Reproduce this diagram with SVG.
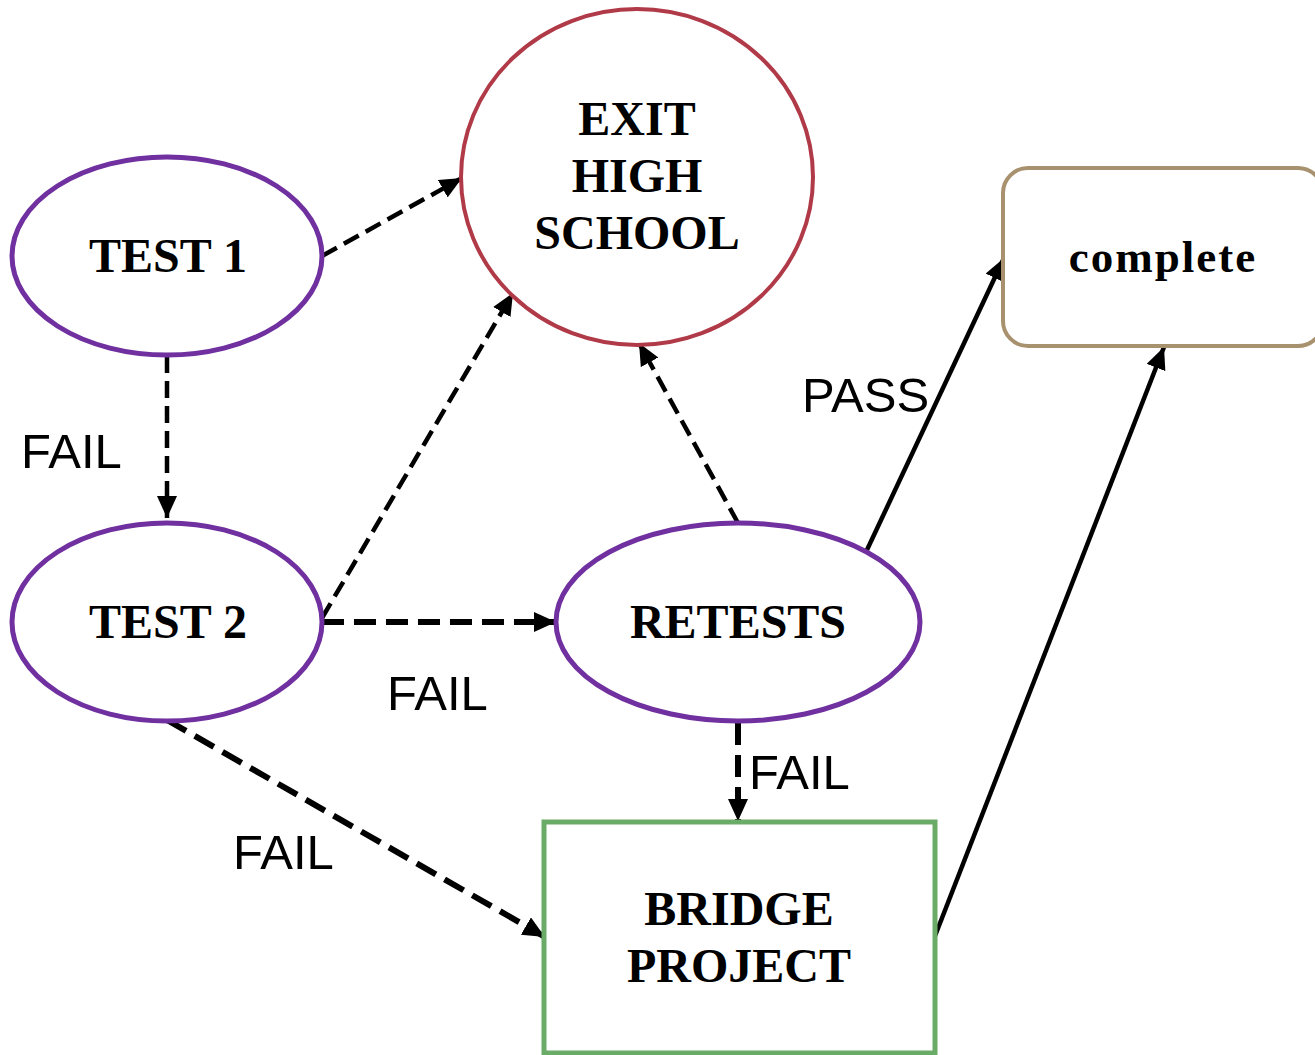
<svg xmlns="http://www.w3.org/2000/svg" width="1315" height="1055" viewBox="0 0 1315 1055">
<style>
.lbl{font-family:"Liberation Serif",serif;font-weight:bold;font-size:48px;fill:#000;text-anchor:middle}
.el{font-family:"Liberation Sans",Arial,sans-serif;font-size:49px;fill:#000}
.purple{fill:#fff;stroke:#7030a0;stroke-width:5}
.c{fill:none;stroke:#000}
.d1{stroke-width:4.5;stroke-dasharray:17 8}
.d2{stroke-width:6;stroke-dasharray:22 10}
.s{stroke-width:4.5}
</style>
<defs>
<marker id="ah" markerUnits="userSpaceOnUse" markerWidth="24" markerHeight="20" refX="22" refY="10" orient="auto">
<path d="M0,0 L22,10 L0,20 Z" fill="#000"/>
</marker>
</defs>
<rect width="1315" height="1055" fill="#fff"/>
<g id="connectors">
<line class="c d1" x1="322" y1="256" x2="462" y2="178" marker-end="url(#ah)"/>
<line class="c d1" x1="167" y1="356" x2="167" y2="518" marker-end="url(#ah)"/>
<line class="c d1" x1="322" y1="618" x2="513" y2="293" marker-end="url(#ah)"/>
<line class="c d2" x1="322" y1="622" x2="556" y2="622" marker-end="url(#ah)"/>
<line class="c d2" x1="167" y1="720" x2="545" y2="937" marker-end="url(#ah)"/>
<line class="c d1" x1="738" y1="523" x2="639" y2="343" marker-end="url(#ah)"/>
<line class="c d2" x1="738" y1="723" x2="738" y2="821" marker-end="url(#ah)"/>
<line class="c s" x1="866" y1="552" x2="1004" y2="258" marker-end="url(#ah)"/>
<line class="c s" x1="935" y1="936" x2="1164" y2="347" marker-end="url(#ah)"/>
</g>
<g id="exit">
<ellipse cx="637" cy="177" rx="176" ry="168" fill="#fff" stroke="#b03a48" stroke-width="4"/>
<text class="lbl" x="637" y="135">EXIT</text>
<text class="lbl" x="637" y="192">HIGH</text>
<text class="lbl" x="637" y="249">SCHOOL</text>
</g>
<g id="test1">
<ellipse class="purple" cx="167" cy="256" rx="155" ry="99"/>
<text class="lbl" x="168" y="272">TEST 1</text>
</g>
<g id="test2">
<ellipse class="purple" cx="167" cy="622" rx="155" ry="99"/>
<text class="lbl" x="168" y="638">TEST 2</text>
</g>
<g id="retests">
<ellipse class="purple" cx="738" cy="622" rx="182" ry="99"/>
<text class="lbl" x="738" y="638">RETESTS</text>
</g>
<g id="complete">
<rect x="1003" y="168" width="320" height="178" rx="25" fill="#fff" stroke="#a8916e" stroke-width="4"/>
<text class="lbl" x="1163" y="272" style="font-size:45px;letter-spacing:2px">complete</text>
</g>
<g id="bridge">
<rect x="544" y="822" width="391" height="231" fill="#fff" stroke="#6aab67" stroke-width="5"/>
<text class="lbl" x="739" y="925">BRIDGE</text>
<text class="lbl" x="739" y="982">PROJECT</text>
</g>
<g id="labels">
<text class="el" x="21" y="468">FAIL</text>
<text class="el" x="802" y="412">PASS</text>
<text class="el" x="387" y="710">FAIL</text>
<text class="el" x="749" y="789">FAIL</text>
<text class="el" x="233" y="869">FAIL</text>
</g>
</svg>
